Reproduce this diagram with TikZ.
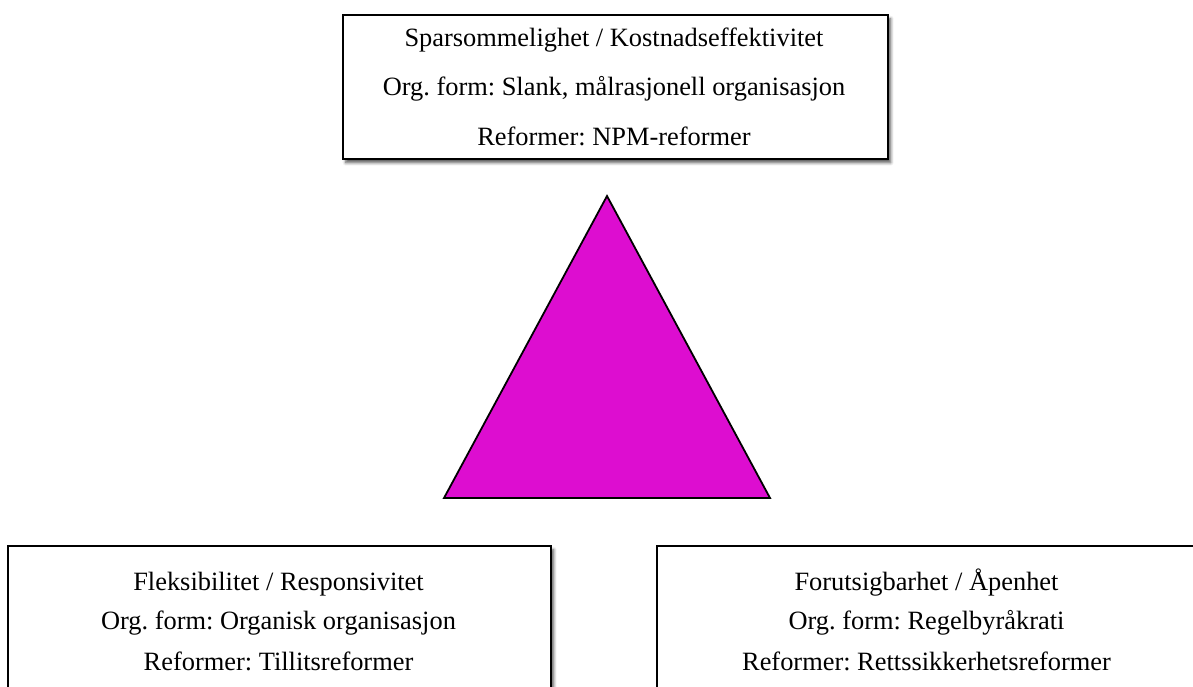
\documentclass[tikz,border=0pt]{standalone}
\usepackage{fontspec}
\setmainfont{Liberation Serif}
\usetikzlibrary{shadows.blur}
\definecolor{trianglefill}{RGB}{221,13,208}
\frenchspacing
\tikzset{
  valuebox/.style={draw=black, line width=2.4pt, fill=white, rectangle,
    inner sep=0pt, anchor=north west,
    blur shadow={shadow xshift=2.5pt, shadow yshift=-3.5pt,
      shadow blur radius=3pt, shadow opacity=65}},
  line/.style={anchor=base, inner sep=0pt,
    font=\fontsize{26.4}{30}\selectfont},
  wedge/.style={draw=black, line width=1.8pt, fill=trianglefill, line join=miter}
}
\begin{document}
\begin{tikzpicture}[x=1pt, y=-1pt]
  \clip (0,0) rectangle (1193,686);
  \useasboundingbox (0,0) rectangle (1193,686);

  % top box: economy
  \node[valuebox, minimum width=545pt, minimum height=144pt] (topbox) at (342,14) {};
  \node[line] (t1) at (614,46)  {Sparsommelighet / Kostnadseffektivitet};
  \node[line] (t2) at (614,95)  {Org. form: Slank, målrasjonell organisasjon};
  \node[line] (t3) at (614,145) {Reformer: NPM-reformer};

  % central triangle
  \coordinate (apex)  at (607,196);
  \coordinate (left)  at (444,498);
  \coordinate (right) at (770,498);
  \draw[wedge] (apex) -- (left) -- (right) -- cycle;

  % bottom left box: flexibility
  \node[valuebox, minimum width=543pt, minimum height=170pt] (leftbox) at (7,545) {};
  \node[line] (l1) at (278.5,590) {Fleksibilitet / Responsivitet};
  \node[line] (l2) at (278.5,629) {Org. form: Organisk organisasjon};
  \node[line] (l3) at (278.5,670) {Reformer: Tillitsreformer};

  % bottom right box: predictability
  \node[valuebox, minimum width=541pt, minimum height=170pt] (rightbox) at (656,545) {};
  \node[line] (r1) at (926.5,590) {Forutsigbarhet / Åpenhet};
  \node[line] (r2) at (926.5,629) {Org. form: Regelbyråkrati};
  \node[line] (r3) at (926.5,670) {Reformer: Rettssikkerhetsreformer};
\end{tikzpicture}
\end{document}
